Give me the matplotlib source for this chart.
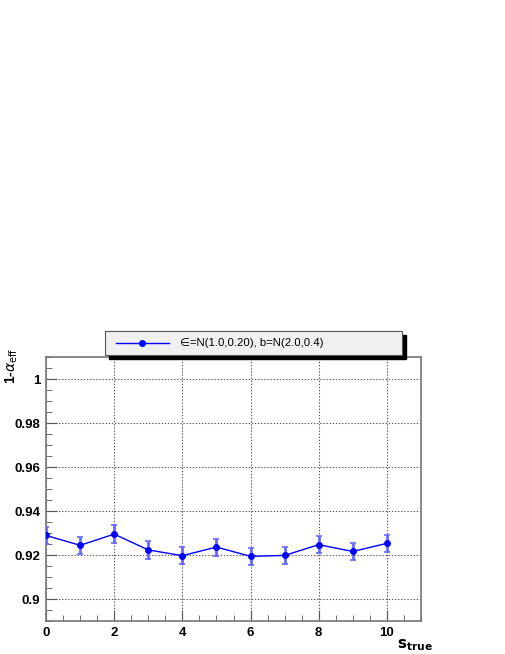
import matplotlib
matplotlib.use("Agg")
import matplotlib.pyplot as plt
from matplotlib.patches import Rectangle
from matplotlib.lines import Line2D
from matplotlib.ticker import MultipleLocator

s_true = [0, 1, 2, 3, 4, 5, 6, 7, 8, 9, 10]
one_minus_alpha = [0.9289, 0.9244, 0.9295, 0.9223, 0.9197, 0.9236, 0.9194, 0.9198, 0.9247, 0.9216, 0.9253]
errors = [0.0040, 0.0039, 0.0040, 0.0039, 0.0040, 0.0039, 0.0040, 0.0039, 0.0040, 0.0039, 0.0040]
legend_label = "\u2208=N(1.0,0.20), b=N(2.0,0.4)"

plt.rcParams['font.family'] = ['Liberation Sans', 'DejaVu Sans']

fig = plt.figure(figsize=(5.05, 6.54), dpi=100)
W, H = 505, 654
ax = fig.add_axes([46 / W, 1 - 621 / H, (421 - 46) / W, (621 - 357) / H])

ax.errorbar(s_true, one_minus_alpha, yerr=errors, fmt='none', ecolor=(0.4, 0.4, 1.0),
            elinewidth=2.0, capsize=2.5, capthick=1.2, zorder=3)
ax.plot(s_true, one_minus_alpha, color='#0000ff', lw=1.0, marker='o', markersize=4, zorder=4)

ax.set_xlim(0, 11)
ax.set_ylim(0.89, 1.01)
ax.xaxis.set_major_locator(MultipleLocator(2))
ax.xaxis.set_minor_locator(MultipleLocator(0.5))
ax.yaxis.set_major_locator(MultipleLocator(0.02))
ax.yaxis.set_minor_locator(MultipleLocator(0.005))
ax.yaxis.set_major_formatter(matplotlib.ticker.FuncFormatter(lambda v, p: ('%g' % round(v, 3))))
ax.grid(True, which='major', linestyle=(0, (1.2, 1.6)), color='#555555', lw=0.8)
ax.tick_params(which='both', direction='in', top=False, right=False, labelsize=9.5, pad=4, color='#555555')
ax.tick_params(which='major', length=8)
ax.tick_params(which='minor', length=4)
for lab in ax.get_xticklabels() + ax.get_yticklabels():
    lab.set_fontweight('bold')
for sp in ax.spines.values():
    sp.set_color('#777777')
    sp.set_linewidth(1.2)

fig.text(12 / W, 1 - 366 / H, r'1-$\alpha_{\mathrm{eff}}$', rotation=90, ha='center', va='center',
         fontsize=10, fontweight='bold')
fig.text(397 / W, 1 - 637 / H, r'$\mathbf{s}_{\mathbf{true}}$', ha='left', va='top', fontsize=11)

# legend box with shadow
lx0, lx1, ly0, ly1 = 105, 402, 331, 355
fig.patches.append(Rectangle(((lx0 + 4) / W, 1 - (ly1 + 4) / H), (lx1 - lx0) / W, (ly1 - ly0) / H,
                             transform=fig.transFigure, facecolor='black', edgecolor='black', zorder=5))
fig.patches.append(Rectangle((lx0 / W, 1 - ly1 / H), (lx1 - lx0) / W, (ly1 - ly0) / H,
                             transform=fig.transFigure, facecolor='#f0f0f0', edgecolor='#555555', lw=0.8, zorder=6))
fig.lines.append(Line2D([116 / W, 169 / W], [1 - 343 / H, 1 - 343 / H], transform=fig.transFigure,
                        color='#0000ff', lw=1.0, zorder=7))
fig.lines.append(Line2D([142 / W], [1 - 343 / H], transform=fig.transFigure, color='#0000ff',
                        marker='o', markersize=4, zorder=7))
fig.text(180 / W, 1 - 343 / H, legend_label, ha='left', va='center', fontsize=8.2, zorder=8)

fig.savefig('out.png', dpi=100)
